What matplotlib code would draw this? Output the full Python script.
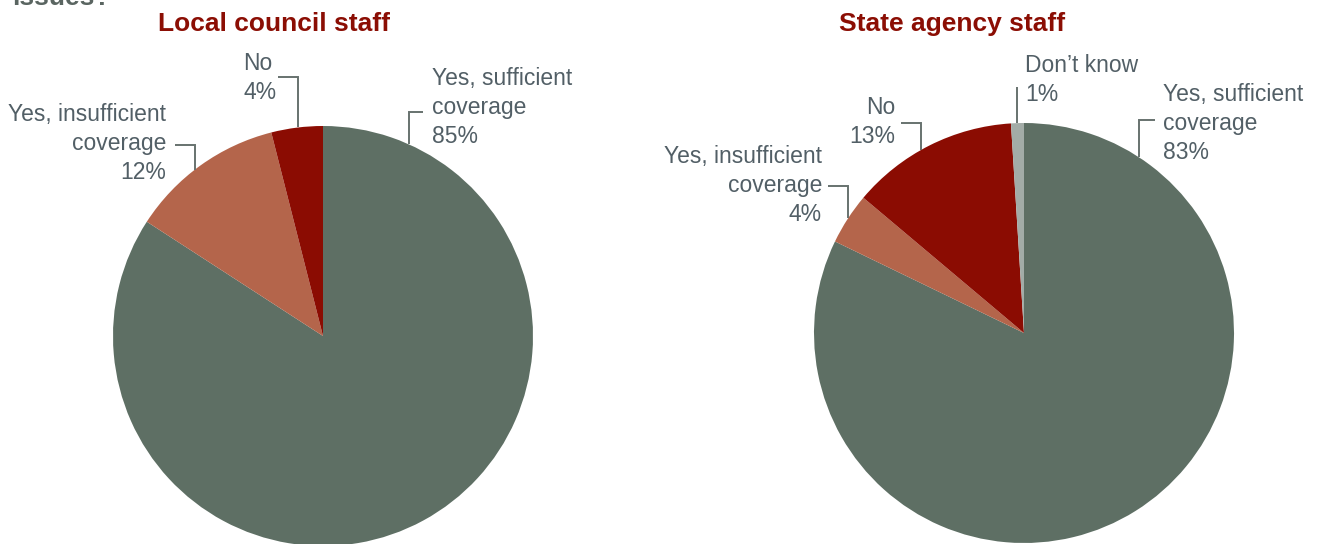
"""Two pie charts: insurance coverage reported by council and agency staff."""

import matplotlib.pyplot as plt
import numpy as np

# Figure size in pixels
W, H = 1319, 544

# Colours
GREEN = '#5e6f64'
TERRACOTTA = '#b4654b'
DARK_RED = '#8b0c02'
LIGHT_GREY = '#a3aca7'
TEXT = '#525f66'
LEADER = '#67726f'
TITLE = '#8b0e04'

# Data
local_labels = ['Yes, sufficient\ncoverage', 'Yes, insufficient\ncoverage', 'No']
local_values = [85, 12, 4]
local_colors = [GREEN, TERRACOTTA, DARK_RED]

state_labels = ['Yes, sufficient\ncoverage', 'Yes, insufficient\ncoverage',
                'No', 'Don\u2019t know']
state_values = [83, 4, 13, 1]
state_colors = [GREEN, TERRACOTTA, DARK_RED, LIGHT_GREY]

# Label placement, one entry per slice:
# (text x, first line y, alignment, leader elbow points, leader x at the pie)
local_layout = [
    (432, 79, 'left', [(423, 112), (409, 112)], 409),
    (166, 115, 'right', [(175, 145), (195, 145)], 195),
    (243, 64, 'left', [(278, 77), (298, 77)], 298),
]
state_layout = [
    (1163, 95, 'left', [(1155, 120), (1139, 120)], 1139),
    (822, 157, 'right', [(828, 186), (848, 186)], 848),
    (895, 108, 'right', [(901, 123), (921, 123)], 921),
    (1025, 66, 'left', [(1017, 87)], 1017),
]

FONT = ['Liberation Sans', 'DejaVu Sans']
LINE_STEP = 28.7


def flip(y):
    """Convert a top-down pixel row into the axes' bottom-up y."""
    return H - y


def draw_pie(ax, values, colors, labels, layout, center, radius,
             title, title_x):
    cx, cy = center
    ax.pie(values, colors=colors, startangle=90, counterclock=False,
           center=(cx, flip(cy)), radius=radius,
           wedgeprops=dict(linewidth=0), frame=True)

    for value, label, (tx, ty, ha, elbow, px) in zip(values, labels, layout):
        lines = label.split('\n') + ['{}%'.format(value)]
        for i, line in enumerate(lines):
            ax.text(tx, flip(ty + i * LINE_STEP), line, ha=ha, va='center',
                    fontsize=16.5, color=TEXT, family=FONT)

        # Leader from the label down to the pie edge
        py = cy - np.sqrt(radius ** 2 - (px - cx) ** 2)
        pts = elbow + [(px, py)]
        xs = [p[0] for p in pts]
        ys = [flip(p[1]) for p in pts]
        ax.plot(xs, ys, color=LEADER, lw=1.4, solid_capstyle='butt',
                solid_joinstyle='miter')

    ax.text(title_x, flip(31), title, ha='center', va='baseline',
            fontsize=19, fontweight='bold', color=TITLE, family=FONT)


fig = plt.figure(figsize=(W / 100, H / 100), dpi=100)
ax = fig.add_axes([0, 0, 1, 1])

draw_pie(ax, local_values, local_colors, local_labels, local_layout,
         (323, 336), 210, 'Local council staff', 274)
draw_pie(ax, state_values, state_colors, state_labels, state_layout,
         (1024, 333), 210, 'State agency staff', 952)

# Question heading, mostly above the visible area
ax.text(12, flip(5), 'issues?', ha='left', va='baseline', fontsize=19,
        fontweight='bold', color='#5a6561', family=FONT)

ax.set_xlim(0, W)
ax.set_ylim(0, H)
ax.set_aspect('auto')
ax.axis('off')

fig.savefig('out.png', dpi=100)
